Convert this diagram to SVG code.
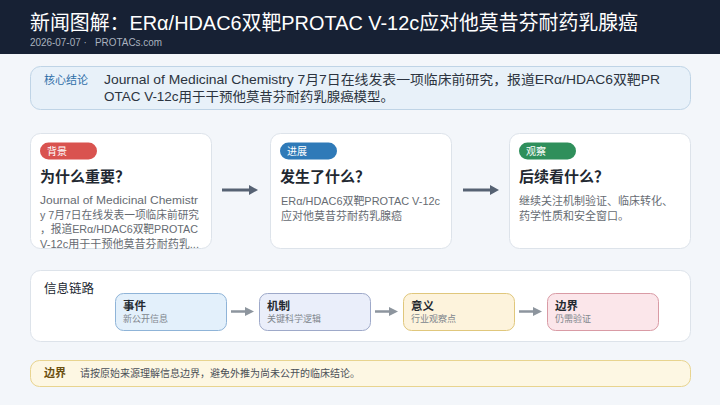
<svg xmlns="http://www.w3.org/2000/svg" width="720" height="405" viewBox="0 0 720 405">
<defs>
<style>
text{font-family:"Liberation Sans","Noto Sans CJK SC",sans-serif}
.card{fill:#ffffff;stroke:#dde3ea;stroke-width:1}
.badge-t{fill:#ffffff;font-size:10px}
.h{fill:#222831;font-size:15px;font-weight:700}
.body{fill:#666b72;font-size:11px}
.bt{fill:#252a31;font-size:11.5px;font-weight:700}
.bs{fill:#80868d;font-size:9px}
.big{stroke:#566273;stroke-width:3;fill:none}
.small{stroke:#8d959e;stroke-width:2.5;fill:none}
</style>
<marker id="ah" markerUnits="userSpaceOnUse" markerWidth="10" markerHeight="12" refX="0" refY="6" orient="auto">
<path d="M0,1 L9,6 L0,11 Z" fill="#566273"/>
</marker>
<marker id="as" markerUnits="userSpaceOnUse" markerWidth="10" markerHeight="12" refX="0" refY="6" orient="auto">
<path d="M0,1.5 L9,6 L0,10.5 Z" fill="#8d959e"/>
</marker>
</defs>
<rect x="0" y="0" width="720" height="405" fill="#f3f6fa"/>
<g id="header">
<rect x="0" y="0" width="720" height="54" fill="#172134"/>
<text x="30" y="30" fill="#ffffff" font-size="20" textLength="608" lengthAdjust="spacingAndGlyphs">新闻图解：ERα/HDAC6双靶PROTAC V-12c应对他莫昔芬耐药乳腺癌</text>
<text x="30" y="46" fill="#a9b2bf" font-size="10" textLength="132" lengthAdjust="spacingAndGlyphs">2026-07-07 ·&#160;&#160;&#160;PROTACs.com</text>
</g>
<g id="core">
<rect x="30.5" y="66.5" width="660" height="43" rx="10" fill="#e8f1f9" stroke="#bfd4e6"/>
<text x="44" y="84" fill="#2f6fa8" font-size="11">核心结论</text>
<text x="104" y="84" fill="#2c3440" font-size="13" textLength="556" lengthAdjust="spacingAndGlyphs">Journal of Medicinal Chemistry 7月7日在线发表一项临床前研究，报道ERα/HDAC6双靶PR</text>
<text x="104" y="101" fill="#2c3440" font-size="13" textLength="290" lengthAdjust="spacingAndGlyphs">OTAC V-12c用于干预他莫昔芬耐药乳腺癌模型。</text>
</g>
<g id="card-bg">
<rect class="card" x="30.5" y="133.5" width="181" height="115" rx="10"/>
<rect x="40" y="142.5" width="57" height="17" rx="8.5" fill="#d9534f"/>
<text class="badge-t" x="47" y="155">背景</text>
<text class="h" x="40" y="182">为什么重要？</text>
<text class="body" x="40" y="204" textLength="158" lengthAdjust="spacingAndGlyphs">Journal of Medicinal Chemistr</text>
<text class="body" x="40" y="218.5" textLength="159" lengthAdjust="spacingAndGlyphs">y 7月7日在线发表一项临床前研究</text>
<text class="body" x="40" y="233" textLength="158" lengthAdjust="spacingAndGlyphs">，报道ERα/HDAC6双靶PROTAC</text>
<text class="body" x="40" y="247.5" textLength="159" lengthAdjust="spacingAndGlyphs">V-12c用于干预他莫昔芬耐药乳...</text>
</g>
<g id="card-progress">
<rect class="card" x="270.5" y="133.5" width="181" height="115" rx="10"/>
<rect x="280" y="142.5" width="57" height="17" rx="8.5" fill="#2f7ab8"/>
<text class="badge-t" x="287" y="155">进展</text>
<text class="h" x="280" y="182">发生了什么？</text>
<text class="body" x="281" y="205" textLength="159" lengthAdjust="spacingAndGlyphs">ERα/HDAC6双靶PROTAC V-12c</text>
<text class="body" x="281" y="219.5">应对他莫昔芬耐药乳腺癌</text>
</g>
<g id="card-watch">
<rect class="card" x="509.5" y="133.5" width="181" height="115" rx="10"/>
<rect x="519" y="142.5" width="57" height="17" rx="8.5" fill="#2f8f5b"/>
<text class="badge-t" x="526" y="155">观察</text>
<text class="h" x="519" y="182">后续看什么？</text>
<text class="body" x="519" y="205">继续关注机制验证、临床转化、</text>
<text class="body" x="519" y="219.5">药学性质和安全窗口。</text>
</g>
<g id="chain">
<rect x="30.5" y="270.5" width="660" height="71" rx="10" fill="#ffffff" stroke="#dde3ea"/>
<text x="44" y="293" fill="#222831" font-size="12.5">信息链路</text>
</g>
<g id="event">
<rect x="115.5" y="293.5" width="111" height="37" rx="8" fill="#e3f0fb" stroke="#8fb4d8"/>
<text class="bt" x="123" y="310">事件</text>
<text class="bs" x="123" y="322">新公开信息</text>
</g>
<g id="mechanism">
<rect x="259.5" y="293.5" width="111" height="37" rx="8" fill="#eaeefa" stroke="#9ea9c9"/>
<text class="bt" x="267" y="310">机制</text>
<text class="bs" x="267" y="322">关键科学逻辑</text>
</g>
<g id="meaning">
<rect x="403.5" y="293.5" width="111" height="37" rx="8" fill="#fdf3dc" stroke="#e0c77c"/>
<text class="bt" x="411" y="310">意义</text>
<text class="bs" x="411" y="322">行业观察点</text>
</g>
<g id="boundary">
<rect x="547.5" y="293.5" width="111" height="37" rx="8" fill="#fbe6ea" stroke="#d99ba5"/>
<text class="bt" x="555" y="310">边界</text>
<text class="bs" x="555" y="322">仍需验证</text>
</g>
<g id="connectors">
<line class="big" x1="222" y1="190" x2="249" y2="190" marker-end="url(#ah)"/>
<line class="big" x1="463" y1="190" x2="490" y2="190" marker-end="url(#ah)"/>
<line class="small" x1="231" y1="311.5" x2="245" y2="311.5" marker-end="url(#as)"/>
<line class="small" x1="375" y1="311.5" x2="389" y2="311.5" marker-end="url(#as)"/>
<line class="small" x1="519" y1="311.5" x2="533" y2="311.5" marker-end="url(#as)"/>
</g>
<g id="note">
<rect x="30.5" y="360.5" width="660" height="26" rx="9" fill="#fdf7e3" stroke="#e8d48f"/>
<text x="44" y="377" fill="#6b4f10" font-size="11" font-weight="700">边界</text>
<text x="80" y="377" fill="#4a4f57" font-size="10">请按原始来源理解信息边界，避免外推为尚未公开的临床结论。</text>
</g>
</svg>
